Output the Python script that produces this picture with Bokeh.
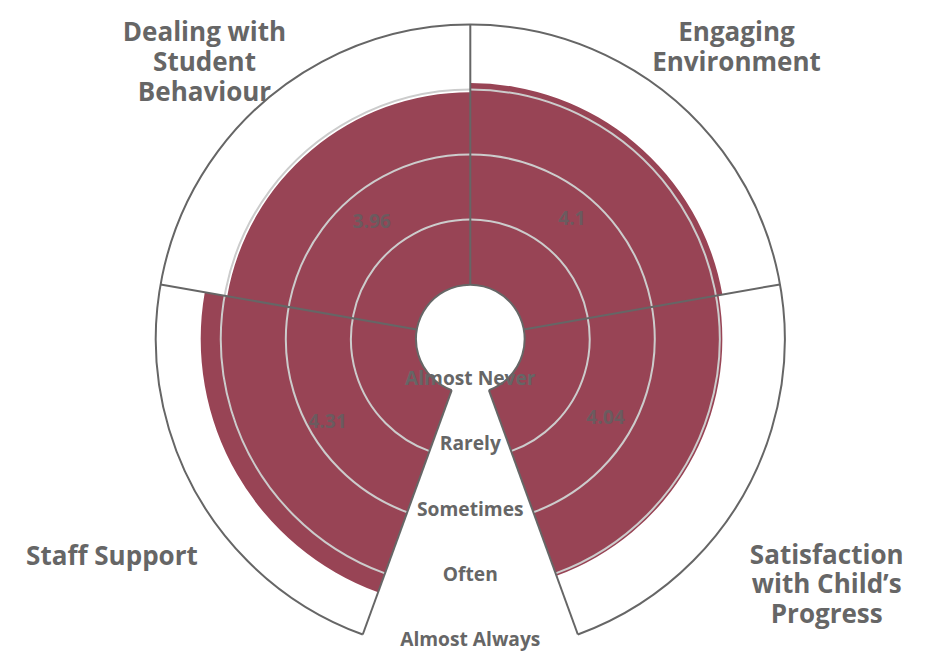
import math
from bokeh.plotting import figure
from bokeh.models import Range1d, ColumnDataSource
from bokeh.core.properties import value
from bokeh.embed import file_html
from bokeh.resources import INLINE

# ---- data ----
categories = ["Staff Support", "Dealing with\nStudent\nBehaviour",
              "Engaging\nEnvironment", "Satisfaction\nwith Child\u2019s\nProgress"]
scores = [4.31, 3.96, 4.1, 4.04]
score_labels = ["4.31", "3.96", "4.1", "4.04"]
scale_values = [1, 2, 3, 4, 5]
scale_labels = ["Almost Never", "Rarely", "Sometimes", "Often", "Almost Always"]

# ---- layout (data units = reference pixels, centred on the pane) ----
W, H = 921, 656
S = 0.962                     # reference px -> screen px
FCX, FCY = 469.8, 338.5       # pane centre on screen (from top-left)
REF_CX, REF_CY = 478, 352     # pane centre in reference pixels
R0, STEP = 56.5, 67.6         # radius of value 1, pixels per unit
START, SPAN = 200.0, 80.0     # compass degrees (clockwise from top)
FONT = "Open Sans"
GREY = "#666666"
BAR = "#984455"


def px(v):
    return "%.1fpx" % (v * S)


def rad(v):
    return R0 + (v - 1) * STEP


def bang(theta_deg):
    """compass angle (clockwise from top) -> bokeh radians"""
    return math.radians(90.0 - theta_deg)


p = figure(width=W, height=H, output_backend="svg", toolbar_location=None,
           x_range=Range1d(-FCX / S, (W - FCX) / S),
           y_range=Range1d(-(H - FCY) / S, FCY / S),
           min_border=0, outline_line_color=None)
p.axis.visible = False
p.grid.visible = False
p.background_fill_color = "white"
p.border_fill_color = "white"

n = len(categories)
# bars
bar_src = ColumnDataSource(dict(
    outer=[rad(v) for v in scores],
    start=[bang(START + SPAN * (i + 1)) for i in range(n)],
    end=[bang(START + SPAN * i) for i in range(n)],
))
p.annular_wedge(x=0, y=0, inner_radius=R0, outer_radius="outer",
                start_angle="start", end_angle="end", direction="anticlock",
                fill_color=BAR, line_color=None, source=bar_src)

arc_start = bang(START + SPAN * n)   # 160 deg compass
arc_end = bang(START)                # 200 deg compass
# grid rings
for v in scale_values[1:-1]:
    p.arc(x=0, y=0, radius=rad(v), start_angle=arc_start, end_angle=arc_end,
          direction="anticlock", line_color="#cccccc", line_width=2)
# hole and outer edge
for v in (scale_values[0], scale_values[-1]):
    p.arc(x=0, y=0, radius=rad(v), start_angle=arc_start, end_angle=arc_end,
          direction="anticlock", line_color=GREY, line_width=2)
# sector dividers
for i in range(n + 1):
    a = bang(START + SPAN * i)
    r1, r2 = rad(scale_values[0]), rad(scale_values[-1])
    p.segment(x0=r1 * math.cos(a), y0=r1 * math.sin(a),
              x1=r2 * math.cos(a), y1=r2 * math.sin(a),
              line_color=GREY, line_width=2)

# value labels
mids = [bang(START + SPAN * (i + 0.5)) for i in range(n)]
vr = [(R0 + rad(v)) / 2 + 3 for v in scores]
p.text(x=[r * math.cos(a) for r, a in zip(vr, mids)],
       y=[r * math.sin(a) for r, a in zip(vr, mids)],
       text=score_labels, text_font=value(FONT), text_font_style="bold",
       text_font_size=px(20), text_color="#6b5b5f",
       text_align="center", text_baseline="middle")

# scale labels (y axis), baseline just above each ring on the downward axis
p.text(x=[0] * len(scale_values), y=[-(rad(v) - 16) for v in scale_values],
       text=scale_labels, text_font=value(FONT), text_font_style="bold",
       text_font_size=px(20), text_color=GREY,
       text_align="center", text_baseline="alphabetic")

# category labels: anchor (centre x, first baseline) in reference pixels
anchors = [(105.5, 577), (201.7, 32), (754.7, 32), (848.5, 575)]
LH = 31
for cat, (ax, ay) in zip(categories, anchors):
    lines = cat.split("\n")
    p.text(x=[ax - REF_CX] * len(lines),
           y=[REF_CY - (ay + k * LH) for k in range(len(lines))],
           text=lines, text_font=value(FONT), text_font_style="bold",
           text_font_size=px(27), text_color=GREY,
           text_align="center", text_baseline="alphabetic")

open("out.html", "w").write(file_html(p, INLINE))
